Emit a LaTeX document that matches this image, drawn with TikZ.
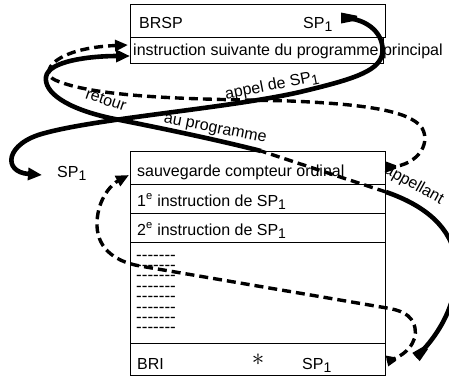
\documentclass[tikz,border=0pt]{standalone}
\usepackage{fontspec}
\setmainfont{Liberation Sans}
\usetikzlibrary{arrows.meta}

% subscripted subprogram name
\newcommand{\spone}{SP\raisebox{-3pt}{\fontsize{14}{14}\selectfont 1}}
% a row of seven short dashes
\newcommand{\dashrow}{-{}-{}-{}-{}-{}-{}-}

\begin{document}
\begin{tikzpicture}[x=1pt,y=-1pt,
  every node/.style={font=\fontsize{16}{18}\selectfont, inner sep=0pt},
  cell/.style={draw, line width=1.4pt, anchor=north west, inner sep=0pt},
  txt/.style={anchor=base west},
  lbl/.style={anchor=center},
  filler/.style={anchor=base west, align=left, font=\fontsize{17}{10.4}\selectfont},
  flow/.style={line width=4.6pt},
  dflow/.style={line width=3.4pt, dash pattern=on 9pt off 5pt},
  head/.style={-{Triangle[length=14pt,width=12pt]}},
  dhead/.style={-{Triangle[length=13pt,width=11pt]}},
  wedge/.style={fill=black},
]
\useasboundingbox (0,0) rectangle (449,376);
\clip (0,0) rectangle (449,376);

% main program
\node[cell, minimum width=255pt, minimum height=33pt] (brsp) at (130,4) {};
\node[cell, minimum width=253pt, minimum height=26pt] (suiv) at (130,37) {};
\node[txt] (tbrsp) at (139,28) {BRSP};
\node[txt] (tbrspsp) at (303,28) {\spone};
\node[txt] (tsuiv) at (133,55) {instruction suivante du programme principal};

% subprogram
\node[cell, minimum width=255pt, minimum height=33pt] (sauv) at (130,151) {};
\node[cell, minimum width=255pt, minimum height=29pt] (ins1) at (130,184) {};
\node[cell, minimum width=255pt, minimum height=29pt] (ins2) at (130,213) {};
\node[cell, minimum width=255pt, minimum height=101pt] (corps) at (130,242) {};
\node[cell, minimum width=255pt, minimum height=32pt] (bri) at (130,343) {};
\node[txt] (tsauv) at (137,176) {sauvegarde compteur ordinal};
\node[txt] (tins1) at (137,206) {1\textsuperscript{e} instruction de \spone};
\node[txt] (tins2) at (137,235) {2\textsuperscript{e} instruction de \spone};
% base anchor of a multi-line node is the last line's baseline
\node[filler] (fill) at (136,332.8) {\dashrow\\\dashrow\\\dashrow\\\dashrow\\\dashrow\\\dashrow\\\dashrow\\\dashrow};
\node[txt] (tbri) at (137,369) {BRI};
\node[lbl, font=\fontsize{26}{26}\selectfont] (tstar) at (258,360) {$\ast$};
\node[txt] (tbrisp) at (302,369) {\spone};

% subprogram name
\node[txt] (tsp) at (57,177) {\spone};

% call: BRSP SP1 -> SP1
\coordinate (a0) at (343,18);
\coordinate (a1) at (42,175);
\fill[wedge] (341,12.5) -- (357,15.7) -- (357,20.3) -- (341,23.5) -- cycle;
\draw[flow, head] (a0) .. controls (368,18) and (386,35) .. (382,55)
  .. controls (378,72) and (350,80) .. (300,92)
  .. controls (230,108) and (100,118) .. (45,133)
  .. controls (5,143) and (2,172) .. (a1);
\node[lbl, rotate=11] (lappel) at (272,86) {appel de \spone};

% return: BRI * SP1 -> next instruction of main program
\coordinate (r0) at (416,357);
\coordinate (r1) at (386,192);
\coordinate (r2) at (261,151);
\coordinate (r3) at (130,56);
\fill[wedge] (419.7,361.1) -- (427.9,349.2) -- (424.7,345.8) -- (412.3,352.9) -- cycle;
\draw[flow] (r0) .. controls (445,330) and (462,290) .. (455,255)
  .. controls (448,222) and (418,203) .. (r1);
\draw[dflow] (r1) -- (r2);
\draw[flow, head] (r2) .. controls (210,138) and (150,126) .. (110,118)
  .. controls (65,108) and (44,92) .. (46,77)
  .. controls (48,61) and (90,56) .. (r3);
\node[lbl, rotate=-19] (lretour) at (106,100) {retour};
\node[lbl, rotate=-11] (lau) at (215,130) {au programme};
\node[lbl, rotate=-29] (lappelant) at (414,185) {appellant};

% saved program counter -> next instruction
\coordinate (d0) at (386,167);
\coordinate (d1) at (128,45);
\fill[wedge] (386,161.5) -- (396,165.3) -- (396,168.7) -- (386,172.5) -- cycle;
\draw[dflow, dhead] (d0) .. controls (415,168) and (432,145) .. (422,128)
  .. controls (410,110) and (360,104) .. (290,101)
  .. controls (220,99) and (100,100) .. (55,80)
  .. controls (38,72) and (55,48) .. (d1);

% BRI * SP1 -> saved program counter
\coordinate (b0) at (387,361);
\coordinate (b1) at (387,308);
\coordinate (b2) at (140,266);
\coordinate (b3) at (129,175);
\fill[wedge] (388.2,366.4) -- (396.2,360.7) -- (395.4,357.3) -- (385.8,355.6) -- cycle;
\draw[dflow, dhead] (b0) .. controls (405,357) and (418,342) .. (415,328)
  .. controls (412,313) and (398,310) .. (b1) -- (b2)
  .. controls (112,261) and (96,246) .. (97,222)
  .. controls (98,198) and (112,184) .. (b3);
\end{tikzpicture}
\end{document}
